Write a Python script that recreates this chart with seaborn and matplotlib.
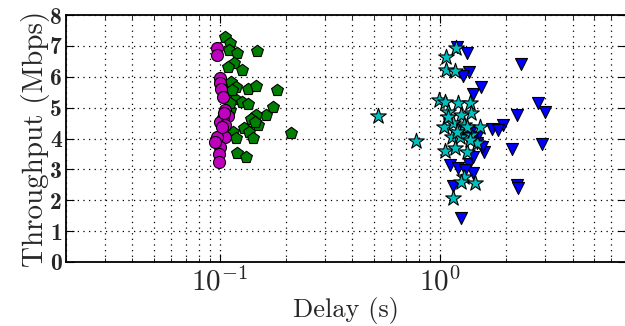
import numpy as np
import pandas as pd
import matplotlib
matplotlib.use('Agg')
import matplotlib.pyplot as plt
from matplotlib.font_manager import FontProperties
import seaborn as sns

# ── Data ──────────────────────────────────────────────────────
circ_x = [0.097, 0.097, 0.100, 0.100, 0.101, 0.103, 0.105, 0.109, 0.103, 0.100,
          0.105, 0.102, 0.106, 0.097, 0.100, 0.099, 0.099, 0.095, 0.104, 0.102]
circ_y = [6.92, 6.70, 5.95, 5.79, 5.59, 5.33, 4.92, 4.73, 4.65, 4.54,
          4.44, 4.11, 4.06, 4.06, 3.73, 3.50, 3.25, 3.90, 4.82, 4.38]

pent_x = [0.106, 0.111, 0.110, 0.120, 0.148, 0.116, 0.109, 0.126, 0.112, 0.118,
          0.134, 0.146, 0.182, 0.106, 0.117, 0.126, 0.134, 0.111, 0.175, 0.162,
          0.146, 0.139, 0.149, 0.144, 0.129, 0.136, 0.210, 0.115, 0.119, 0.141,
          0.120, 0.132, 0.111, 0.114]
pent_y = [7.28, 7.10, 6.87, 6.76, 6.83, 6.46, 6.33, 6.22, 5.84, 5.66,
          5.59, 5.70, 5.57, 5.55, 5.28, 5.19, 5.12, 4.92, 5.03, 4.76,
          4.76, 4.62, 4.44, 4.54, 4.33, 4.22, 4.19, 4.22, 4.01, 4.01,
          3.52, 3.39, 5.14, 5.57]

star_x = [1.18, 1.07, 1.06, 1.17, 0.524, 0.778, 0.99, 1.05, 1.21, 1.37,
          1.09, 1.39, 1.25, 1.04, 1.15, 1.28, 1.52, 1.13, 1.23, 1.39,
          1.05, 1.17, 1.32, 1.47, 1.28, 1.44, 1.25, 1.15, 1.09, 1.32,
          1.19, 1.37]
star_y = [6.92, 6.63, 6.22, 6.19, 4.73, 3.93, 5.25, 5.19, 5.14, 5.14,
          4.87, 4.82, 4.76, 4.38, 4.49, 4.44, 4.38, 4.06, 4.06, 4.11,
          3.61, 3.68, 3.57, 3.84, 2.76, 2.55, 2.60, 2.08, 4.71, 4.38,
          4.22, 3.95]

tri_x = [1.19, 1.32, 2.33, 1.35, 1.27, 1.53, 1.41, 2.80, 3.00, 2.23,
         1.73, 1.93, 1.84, 2.12, 2.92, 1.58, 1.47, 1.11, 1.21, 1.35,
         1.42, 1.30, 1.15, 2.25, 2.27, 1.25, 1.37, 1.47, 1.55, 1.28, 1.42]
tri_y = [6.97, 6.78, 6.41, 6.16, 6.02, 5.66, 5.44, 5.16, 4.87, 4.76,
         4.30, 4.44, 4.28, 3.65, 3.82, 3.57, 3.84, 3.14, 3.03, 3.17,
         2.89, 2.98, 2.46, 2.49, 2.39, 1.42, 4.17, 4.06, 3.73, 4.28, 3.41]

Y_TICKS = [0, 1, 2, 3, 4, 5, 6, 7, 8]

# ── Style ─────────────────────────────────────────────────────
sns.set_style('ticks')
plt.rcParams['font.family'] = ['cmr10']
plt.rcParams['mathtext.fontset'] = 'cm'
plt.rcParams['axes.unicode_minus'] = False
plt.rcParams['axes.formatter.use_mathtext'] = True

fig = plt.figure(figsize=(6.25, 3.26), dpi=100)
ax = fig.add_axes([66 / 625, 64 / 326, 560 / 625, 247 / 326])

series = [
    (pent_x, pent_y, 'p', '#008000', 80),
    (tri_x, tri_y, 'v', '#0000ff', 75),
    (circ_x, circ_y, 'o', '#bf00bf', 75),
    (star_x, star_y, '*', '#00bfbf', 140),
]
for xs, ys, mk, col, sz in series:
    df = pd.DataFrame({'delay': xs, 'tput': ys})
    sns.scatterplot(data=df, x='delay', y='tput', marker=mk, color=col,
                    s=sz, edgecolor='black', linewidth=0.8, ax=ax, zorder=3)

ax.set_xscale('log')
ax.set_xlim(0.02, 7)
ax.set_ylim(0, 8)

dots = (0, (1, 3.5))
ax.grid(True, which='both', axis='x', color='black', linestyle=dots, linewidth=0.9)
ax.grid(True, which='major', axis='y', color='black', linestyle=dots, linewidth=0.9)
ax.set_axisbelow(True)

ax.tick_params(which='both', direction='in', top=True, right=True, color='black')
ax.tick_params(which='major', length=6, width=0.8)
ax.tick_params(which='minor', length=3, width=0.6)
ax.tick_params(axis='x', labelsize=21, pad=4)
ax.tick_params(axis='y', pad=3)

ax.set_yticks(Y_TICKS)
ax.set_yticklabels([str(v) for v in Y_TICKS],
                   fontproperties=FontProperties(family='cmb10', size=17))

for sp in ax.spines.values():
    sp.set_color('black')
    sp.set_linewidth(1.3)

ax.set_xlabel('Delay (s)', fontsize=19, labelpad=0)
ax.set_ylabel('Throughput (Mbps)', fontsize=21, labelpad=0)

plt.savefig('out.png', dpi=100)
